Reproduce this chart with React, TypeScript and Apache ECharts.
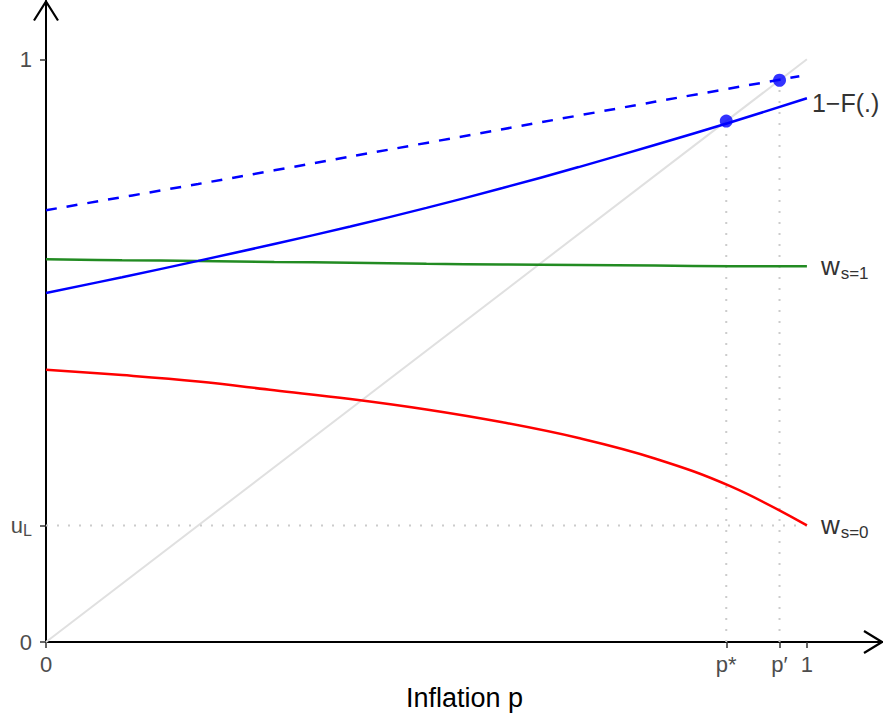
import React, { useEffect, useRef } from 'react';
import * as echarts from 'echarts';

// Inflation grid (x) and curve values (y)
const pGrid = [0, 0.1, 0.2, 0.3, 0.4, 0.5, 0.6, 0.7, 0.8, 0.9, 1.0];
const oneMinusF = [0.599, 0.626, 0.654, 0.683, 0.713, 0.745, 0.779, 0.815, 0.853, 0.892, 0.933];
const wS1 = [0.657, 0.655, 0.654, 0.652, 0.651, 0.649, 0.648, 0.647, 0.646, 0.645, 0.645];
const wS0 = [0.467, 0.458, 0.447, 0.432, 0.417, 0.399, 0.377, 0.35, 0.315, 0.267, 0.2];
const shiftedX = [0, 0.2, 0.4, 0.6, 0.8, 0.99];
const shiftedY = [0.741, 0.786, 0.833, 0.88, 0.927, 0.971];

const pStar = 0.894;
const pPrime = 0.964;
const uL = 0.2;

const xTickValues = [0, pStar, pPrime, 1];
const xTickLabels = ['0', 'p*', 'p\u2032', '1'];
const yTickValues = [0, uL, 1];
const yTickLabels = ['0', '{u|u}{l|L}', '1'];

const FONT = 'Liberation Sans, Arial, Helvetica, sans-serif';

function pick(values: number[], labels: string[], v: number): string {
  let best = 0;
  for (let i = 1; i < values.length; i++) {
    if (Math.abs(values[i] - v) < Math.abs(values[best] - v)) best = i;
  }
  return labels[best];
}

const subRich = {
  w: { fontSize: 26, color: '#333', lineHeight: 26, verticalAlign: 'top', fontFamily: FONT },
  s: { fontSize: 17, color: '#333', lineHeight: 17, verticalAlign: 'top', padding: [12, 0, 0, 1], fontFamily: FONT },
};

export default function App() {
  const ref = useRef<HTMLDivElement>(null);
  useEffect(() => {
    if (!ref.current) return;
    const chart = echarts.init(ref.current, null, { renderer: 'svg' });
    const dotted = { color: '#cccccc', width: 2, type: [2, 9] as any };
    chart.setOption({
      animation: false,
      backgroundColor: '#ffffff',
      textStyle: { fontFamily: FONT },
      grid: { left: 46, right: 0, top: 1, bottom: 75, containLabel: false },
      xAxis: {
        type: 'value',
        min: 0,
        max: 1.1,
        name: 'Inflation p',
        nameLocation: 'middle',
        nameGap: 42,
        nameTextStyle: { fontSize: 27, color: '#000', fontFamily: FONT },
        axisLine: { show: true, lineStyle: { color: '#000', width: 2 } },
        axisTick: { show: true, customValues: xTickValues, length: 6, lineStyle: { color: '#333', width: 1.5 } },
        axisLabel: {
          show: true,
          customValues: xTickValues,
          fontSize: 22,
          color: '#4d4d4d',
          margin: 11,
          fontFamily: FONT,
          formatter: (v: number) => pick(xTickValues, xTickLabels, v),
        },
        splitLine: { show: false },
      },
      yAxis: {
        type: 'value',
        min: 0,
        max: 1.1,
        axisLine: { show: true, lineStyle: { color: '#000', width: 2 } },
        axisTick: { show: true, customValues: yTickValues, length: 6, lineStyle: { color: '#333', width: 1.5 } },
        axisLabel: {
          show: true,
          customValues: yTickValues,
          fontSize: 22,
          color: '#4d4d4d',
          margin: 14,
          fontFamily: FONT,
          formatter: (v: number) => pick(yTickValues, yTickLabels, v),
          rich: {
            u: { fontSize: 22, color: '#4d4d4d', lineHeight: 22, verticalAlign: 'top', fontFamily: FONT },
            l: { fontSize: 16, color: '#4d4d4d', lineHeight: 16, verticalAlign: 'top', padding: [8, 0, 0, 0], fontFamily: FONT },
          },
        },
        splitLine: { show: false },
      },
      series: [
        {
          type: 'line',
          data: [[0, 0], [1, 1]],
          symbol: 'none',
          lineStyle: { color: '#e0e0e0', width: 2 },
          z: 1,
          silent: true,
        },
        {
          type: 'line',
          data: [[pStar, 0], [pStar, pStar]],
          symbol: 'none',
          lineStyle: dotted,
          z: 1,
        },
        {
          type: 'line',
          data: [[pPrime, 0], [pPrime, pPrime]],
          symbol: 'none',
          lineStyle: dotted,
          z: 1,
        },
        {
          type: 'line',
          data: [[0, uL], [1, uL]],
          symbol: 'none',
          lineStyle: dotted,
          z: 1,
        },
        {
          type: 'line',
          data: pGrid.map((x, i) => [x, wS1[i]]),
          symbol: 'none',
          smooth: 0.4,
          lineStyle: { color: '#228b22', width: 2.5 },
          z: 3,
          endLabel: {
            show: true,
            distance: 14,
            formatter: () => '{w|w}{s|s=1}',
            rich: subRich,
          },
        },
        {
          type: 'line',
          data: pGrid.map((x, i) => [x, wS0[i]]),
          symbol: 'none',
          smooth: 0.4,
          lineStyle: { color: '#ff0000', width: 2.5 },
          z: 3,
          endLabel: {
            show: true,
            distance: 14,
            formatter: () => '{w|w}{s|s=0}',
            rich: subRich,
          },
        },
        {
          type: 'line',
          data: pGrid.map((x, i) => [x, oneMinusF[i]]),
          symbol: 'none',
          smooth: 0.4,
          lineStyle: { color: '#0000ff', width: 2.5 },
          z: 3,
          endLabel: {
            show: true,
            distance: 5,
            offset: [0, 5],
            formatter: () => '1\u2212F(.)',
            fontSize: 25,
            color: '#333',
            fontFamily: FONT,
          },
        },
        {
          type: 'line',
          data: shiftedX.map((x, i) => [x, shiftedY[i]]),
          symbol: 'none',
          smooth: 0.3,
          lineStyle: { color: '#0000ff', width: 2.5, type: [11, 10] as any },
          z: 3,
        },
        {
          type: 'scatter',
          data: [[pStar, pStar], [pPrime, pPrime]],
          symbol: 'circle',
          symbolSize: 13,
          itemStyle: { color: '#0000ff' },
          z: 5,
        },
      ],
    });

    const o = chart.convertToPixel({ gridIndex: 0 }, [0, 0]) as number[];
    const xe = chart.convertToPixel({ gridIndex: 0 }, [1.1, 0]) as number[];
    const ye = chart.convertToPixel({ gridIndex: 0 }, [0, 1.1]) as number[];
    const ax = Math.min(xe[0], 882);
    const ay = Math.max(ye[1], 1.5);
    chart.setOption({
      graphic: [
        {
          type: 'polyline',
          shape: { points: [[o[0] - 12, ay + 19], [o[0], ay], [o[0] + 12, ay + 19]] },
          style: { stroke: '#000', lineWidth: 2.2, fill: 'none' },
          z: 10,
        },
        {
          type: 'polyline',
          shape: { points: [[ax - 18, o[1] - 11], [ax, o[1]], [ax - 18, o[1] + 11]] },
          style: { stroke: '#000', lineWidth: 2.2, fill: 'none' },
          z: 10,
        },
      ],
    });
    return () => chart.dispose();
  }, []);
  return (
    <div
      ref={ref}
      style={{ position: 'absolute', left: 0, top: 0, width: 883, height: 717 }}
    />
  );
}
